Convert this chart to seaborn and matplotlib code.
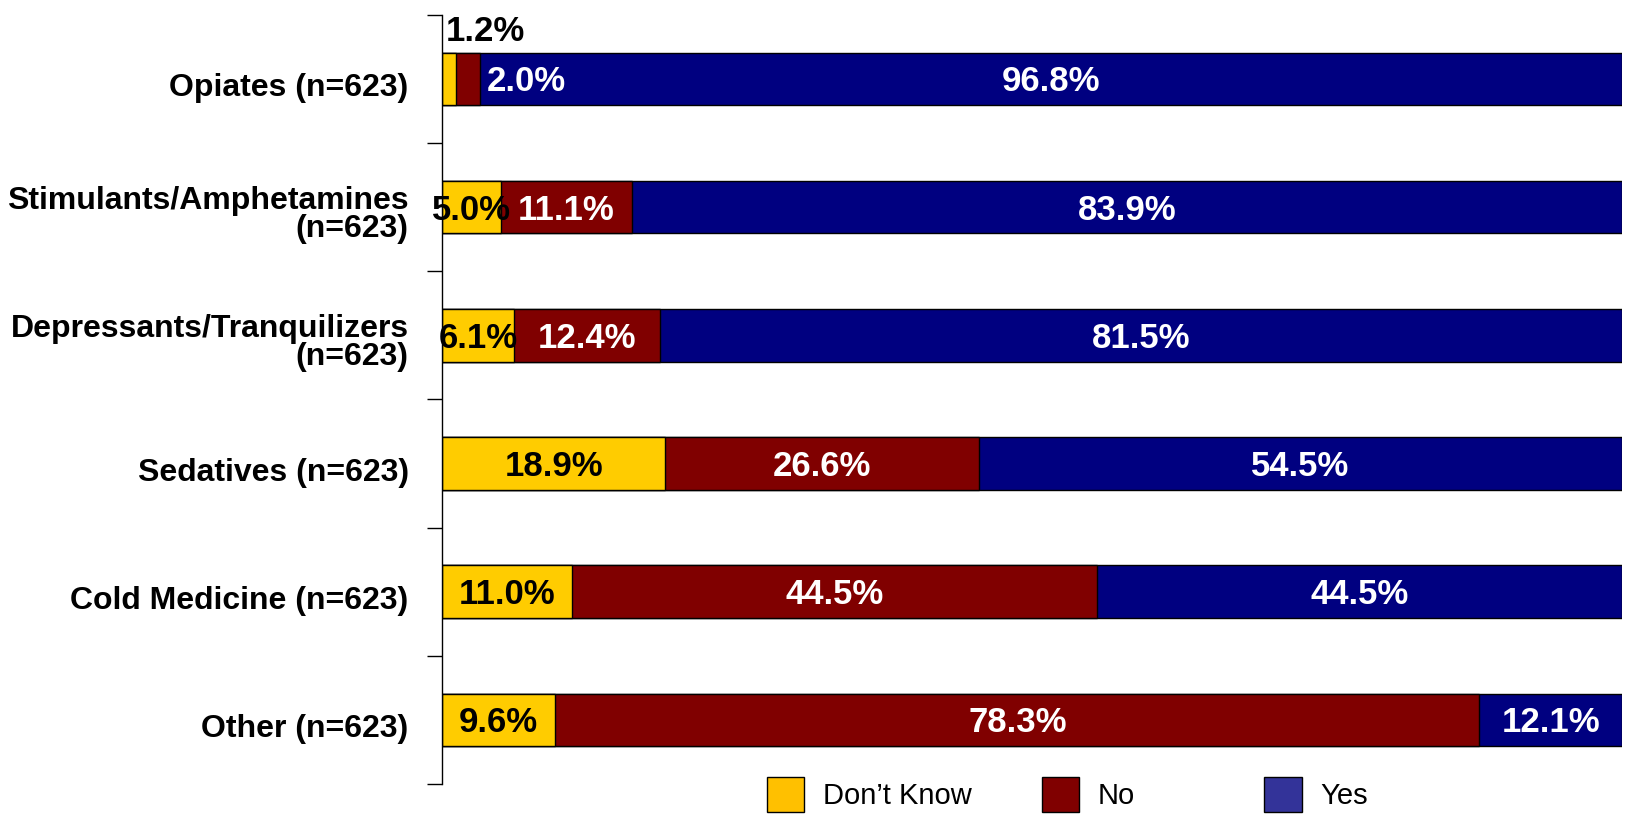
import numpy as np
import pandas as pd
import matplotlib
matplotlib.use("Agg")
import matplotlib.pyplot as plt
import matplotlib.transforms as mtransforms
import seaborn as sns
from matplotlib.patches import Patch

# data (percent of respondents)
categories = [
    "Opiates (n=623)",
    "Stimulants/Amphetamines\n(n=623)",
    "Depressants/Tranquilizers\n(n=623)",
    "Sedatives (n=623)",
    "Cold Medicine (n=623)",
    "Other (n=623)",
]
dont_know = [1.2, 5.0, 6.1, 18.9, 11.0, 9.6]
no = [2.0, 11.1, 12.4, 26.6, 44.5, 78.3]
yes = [96.8, 83.9, 81.5, 54.5, 44.5, 12.1]

series_names = ["Don\u2019t Know", "No", "Yes"]
bar_colors = ["#FFCC00", "#800000", "#000080"]
legend_colors = ["#FFC000", "#800000", "#333399"]

sns.set_theme(style="white")
plt.rcParams["font.family"] = ["Liberation Sans", "DejaVu Sans"]

df = pd.DataFrame({"category": categories, "dk": dont_know, "no": no, "yes": yes})
df["dk_no"] = df["dk"] + df["no"]
df["total"] = df["dk_no"] + df["yes"]

fig = plt.figure(figsize=(16.33, 8.21), dpi=100)
ax = fig.add_axes([0.2707, 0.045, 0.7226, 0.937])

# stacked bars: draw cumulative totals back to front
for col, color in [("total", bar_colors[2]), ("dk_no", bar_colors[1]), ("dk", bar_colors[0])]:
    sns.barplot(data=df, x=col, y="category", orient="h", color=color, saturation=1,
                width=0.41, edgecolor="black", linewidth=1, errorbar=None, ax=ax)

fs = 25
lab_kw = dict(fontsize=fs, fontweight="bold", textcoords="offset points", va="baseline")
drop = -0.716 * fs / 2  # centre the digits on the bar


def label(x, y, txt, color, ha="center", dx=0, dy=drop):
    ax.annotate(txt, xy=(x, y), xytext=(dx, dy), ha=ha, color=color, **lab_kw)


for i, row in df.iterrows():
    # Don't Know
    if i == 0:
        label(0, i - 0.205, f"{row.dk:.1f}%", "black", ha="left", dx=3, dy=8)
    else:
        label(row.dk / 2, i, f"{row.dk:.1f}%", "black")
    # No
    if i == 0:
        label(row.dk_no, i, f"{row.no:.1f}%", "white", ha="left", dx=5)
    else:
        label(row.dk + row.no / 2, i, f"{row.no:.1f}%", "white")
    # Yes
    label(row.dk_no + row.yes / 2, i, f"{row.yes:.1f}%", "white")

ax.set_xlim(0, 100)
ax.set_ylim(len(categories) - 0.5, -0.5)
ax.set_xticks([])
ax.set_xlabel("")
ax.set_ylabel("")

ax.set_yticks(range(len(categories)))
ax.set_yticklabels(categories, fontsize=23, fontweight="bold", color="black")
ax.set_yticks(np.arange(-0.5, len(categories), 1), minor=True)
ax.tick_params(axis="y", which="major", length=0, pad=24)
ax.tick_params(axis="y", which="minor", left=True, length=11, width=1, color="black", direction="out")
shift = mtransforms.ScaledTranslation(0, -4 / 72, fig.dpi_scale_trans)
for lbl in ax.get_yticklabels():
    lbl.set_linespacing(0.9)
    lbl.set_transform(lbl.get_transform() + shift)

for side in ["top", "right", "bottom"]:
    ax.spines[side].set_visible(False)
ax.spines["left"].set_color("black")
ax.spines["left"].set_linewidth(1)

# legend entries spread along the bottom
legend_x = [0.4694, 0.6378, 0.7740]
for name, color, x in zip(series_names, legend_colors, legend_x):
    fig.legend(handles=[Patch(facecolor=color, edgecolor="black", linewidth=1)],
               labels=[name], loc="upper left", bbox_to_anchor=(x, 0.054),
               frameon=False, fontsize=21, labelcolor="black",
               handlelength=1.29, handleheight=1.5,
               handletextpad=0.64, borderpad=0, borderaxespad=0)

fig.savefig("out.png", dpi=100)
